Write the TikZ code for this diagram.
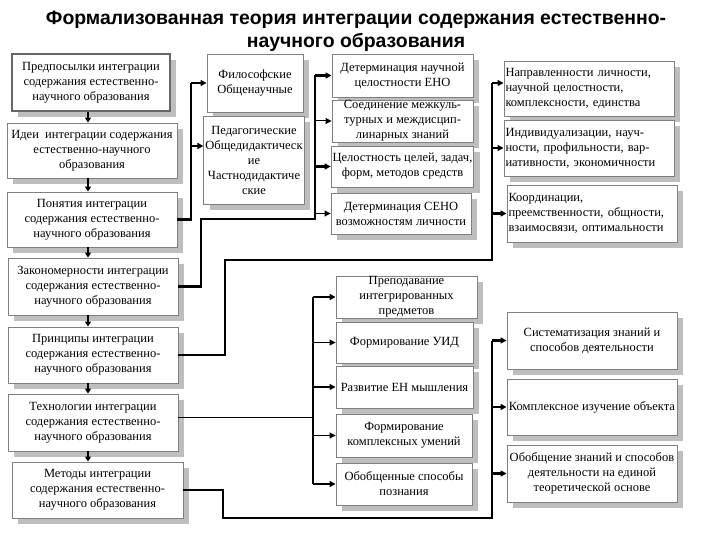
\documentclass[tikz,border=0pt]{standalone}
\usepackage{fontspec}
\setmainfont{Liberation Serif}
\newfontfamily\titlefont{Liberation Sans}
\usetikzlibrary{shadows,arrows.meta}
\definecolor{shgray}{RGB}{190,190,190}
\definecolor{bdgray}{RGB}{128,128,128}
\newcommand\bx[7][]{%
  \pgfmathsetmacro\bxcx{(#3+#5)/2}%
  \pgfmathsetmacro\bxcy{(#4+#6)/2}%
  \pgfmathsetmacro\bxw{#5-#3}%
  \pgfmathsetmacro\bxh{#6-#4}%
  \node[box, minimum width=\bxw pt, minimum height=\bxh pt, #1] (#2) at (\bxcx,\bxcy) {#7};}
\begin{document}
\begin{tikzpicture}[x=1pt,y=-1pt,
  box/.style={draw=bdgray, line width=0.9pt, fill=white, inner xsep=1.5pt, inner ysep=0pt,
    align=center, font=\fontsize{12.5}{15}\selectfont,
    general shadow={fill=shgray, shadow xshift=6pt, shadow yshift=-6pt}},
  conn/.style={line width=2.4pt},
  tline/.style={line width=1pt},
  arr/.style={-{Triangle[length=6pt,width=6pt]}},
  varr/.style={-{Triangle[length=5pt,width=6pt]}, line width=1.8pt},
  lbox/.style={text width=167pt, align=left}]
\useasboundingbox (0,0) rectangle (720,540);

\node[font=\titlefont\bfseries\fontsize{19.4}{23}\selectfont, align=center] (title) at (356,31)
  {Формализованная теория интеграции содержания естественно-\\научного образования};

% left column
\bx[draw=black!60, line width=1.6pt]{n1}{12}{54}{170}{111}{Предпосылки интеграции\\содержания естественно-\\научного образования}
\bx{n2}{7}{123}{177}{178}{Идеи~ интеграции содержания\\естественно-научного\\образования}
\bx{n3}{7}{192}{177}{247}{Понятия интеграции\\содержания естественно-\\научного образования}
\bx{n4}{8}{258}{178}{315}{Закономерности интеграции\\содержания естественно-\\научного образования}
\bx{n5}{8}{327}{178}{383}{Принципы интеграции\\содержания естественно-\\научного образования}
\bx{n6}{8}{394}{178}{451}{Технологии интеграции\\содержания естественно-\\научного образования}
\bx{n7}{12}{462}{183}{518}{Методы интеграции\\содержания естественно-\\научного образования}

% middle column 1
\bx{F}{207}{54}{303}{112}{Философские\\Общенаучные}
\bx{P}{204}{116}{304}{204}{Педагогические\\Общедидактическ\\ие\\Частнодидактиче\\ские}

% middle column 2
\bx{D1}{332}{54}{473}{97}{Детерминация научной\\целостности ЕНО}
\bx{D2}{332}{100}{473}{142}{Соединение межкуль-\\турных и междисцип-\\линарных знаний}
\bx{D3}{332}{146}{473}{187}{Целостность целей, задач,\\форм, методов средств}
\bx{D4}{331}{193}{471}{234}{Детерминация СЕНО\\возможностям личности}

% right column top
\bx[lbox]{R1}{504}{61}{674}{116}{Направленности личности,\\научной целостности,\\комплексности, единства}
\bx[lbox]{R2}{504}{120}{674}{176}{Индивидуализации, науч-\\ности, профильности, вар-\\иативности, экономичности}
\bx[lbox]{R3}{507}{185}{677}{242}{Координации,\\преемственности, общности,\\взаимосвязи, оптимальности}

% bottom middle
\bx{M1}{336}{276}{477}{318}{Преподавание\\интегрированных\\предметов}
\bx{M2}{336}{322}{473}{363}{Формирование УИД}
\bx{M3}{336}{366}{473}{408}{Развитие ЕН мышления}
\bx{M4}{336}{414}{472}{457}{Формирование\\комплексных умений}
\bx{M5}{336}{463}{472}{505}{Обобщенные способы\\познания}

% bottom right
\bx{S1}{507}{312}{677}{369}{Систематизация знаний и\\способов деятельности}
\bx{S2}{507}{379}{677}{435}{Комплексное изучение объекта}
\bx{S3}{507}{445}{677}{502}{Обобщение знаний и способов\\деятельности на единой\\теоретической основе}

% helper coordinates
\coordinate (lx) at (88,0);
\coordinate (ja) at (191,0);
\coordinate (yP) at (0,146);
\coordinate (jb) at (201,0);
\coordinate (yb) at (0,219);
\coordinate (jc) at (315,0);
\coordinate (jd) at (225,0);
\coordinate (yc) at (0,260);
\coordinate (je) at (492,0);
\coordinate (yR) at (0,83);
\coordinate (jf) at (313,0);
\coordinate (jg) at (223,0);
\coordinate (yg) at (0,518);
\coordinate (t0) at ([yshift=5pt]n6.east);

% left column arrows
\draw[varr] (lx |- n1.south) -- (lx |- n2.north);
\draw[varr] (lx |- n2.south) -- (lx |- n3.north);
\draw[varr] (lx |- n3.south) -- (lx |- n4.north);
\draw[varr] (lx |- n4.south) -- (lx |- n5.north);
\draw[varr] (lx |- n5.south) -- (lx |- n6.north);
\draw[varr] (lx |- n6.south) -- (lx |- n7.north);

% A: concepts -> philosophy / pedagogy
\draw[conn] (n3.east) -| (ja |- F.west);
\draw[conn,arr] (ja |- F.west) -- (F.west);
\draw[conn,arr] (ja |- yP) -- (P.west |- yP);

% B: regularities -> D boxes
\draw[conn] (n4.east) -| (jb |- yb) -| (jc |- D1.west);
\draw[conn,arr] (jc |- D1.west) -- (D1.west);
\draw[tline,arr] (jc |- D2.west) -- (D2.west);
\draw[conn,arr] (jc |- D3.west) -- (D3.west);
\draw[tline,arr] (jc |- D4.west) -- (D4.west);

% C: principles -> R boxes
\draw[conn] (n5.east) -| (jd |- yc) -| (je |- yR);
\draw[conn,arr] (je |- yR) -- (R1.west |- yR);
\draw[conn,arr] (je |- R2.west) -- (R2.west);
\draw[conn,arr] (je |- R3.west) -- (R3.west);

% D: technologies -> M boxes
\draw[tline] (t0) -- (t0 -| jf);
\draw[conn] (jf |- M1.west) -- (jf |- M5.west);
\draw[conn,arr] (jf |- M1.west) -- (M1.west);
\draw[tline,arr] (jf |- M2.west) -- (M2.west);
\draw[conn,arr] (jf |- M3.west) -- (M3.west);
\draw[tline,arr] (jf |- M4.west) -- (M4.west);
\draw[conn,arr] (jf |- M5.west) -- (M5.west);

% E: methods -> S boxes
\draw[conn] (n7.east) -| (jg |- yg) -| (je |- S1.west);
\draw[conn,arr] (je |- S1.west) -- (S1.west);
\draw[conn,arr] (je |- S2.west) -- (S2.west);
\draw[conn,arr] (je |- S3.west) -- (S3.west);
\end{tikzpicture}
\end{document}
